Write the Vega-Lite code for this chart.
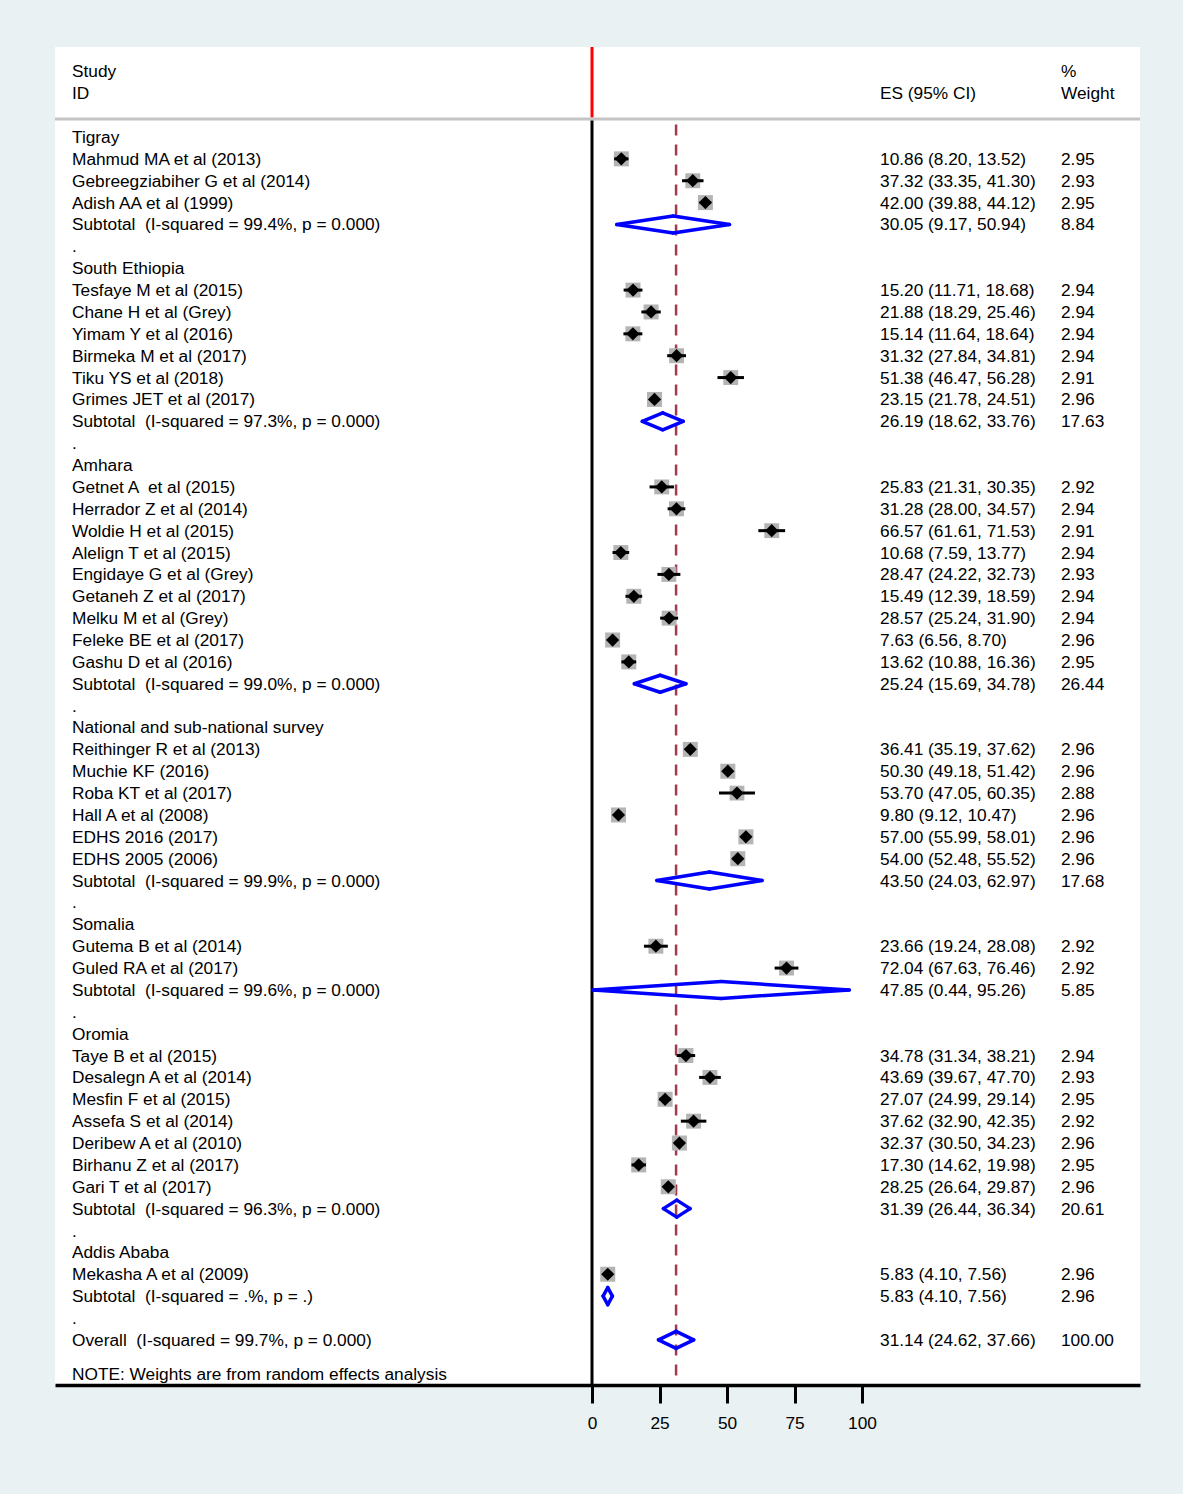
{
  "$schema": "https://vega.github.io/schema/vega-lite/v6.json",
  "autosize": {"type": "none"},
  "padding": {"left": 55, "top": 47, "right": 43, "bottom": 109},
  "width": 1085,
  "height": 1338,
  "background": "#e9f1f2",
  "config": {
    "view": {"fill": "white", "stroke": null},
    "font": "Liberation Sans",
    "text": {"font": "Liberation Sans", "fontSize": 17.3, "color": "black", "baseline": "middle", "align": "left", "dy": 1}
  },
  "data": {"values": [
    {"row": 0, "label": "Tigray", "type": "group"},
    {"row": 1, "label": "Mahmud MA et al (2013)", "type": "study", "es": 10.86, "lo": 8.20, "hi": 13.52, "ci": "10.86 (8.20, 13.52)", "weight": 2.95},
    {"row": 2, "label": "Gebreegziabiher G et al (2014)", "type": "study", "es": 37.32, "lo": 33.35, "hi": 41.30, "ci": "37.32 (33.35, 41.30)", "weight": 2.93},
    {"row": 3, "label": "Adish AA et al (1999)", "type": "study", "es": 42.00, "lo": 39.88, "hi": 44.12, "ci": "42.00 (39.88, 44.12)", "weight": 2.95},
    {"row": 4, "label": "Subtotal \u00a0(I-squared = 99.4%, p = 0.000)", "type": "subtotal", "es": 30.05, "lo": 9.17, "hi": 50.94, "ci": "30.05 (9.17, 50.94)", "weight": 8.84},
    {"row": 5, "label": ".", "type": "blank"},
    {"row": 6, "label": "South Ethiopia", "type": "group"},
    {"row": 7, "label": "Tesfaye M et al (2015)", "type": "study", "es": 15.20, "lo": 11.71, "hi": 18.68, "ci": "15.20 (11.71, 18.68)", "weight": 2.94},
    {"row": 8, "label": "Chane H et al (Grey)", "type": "study", "es": 21.88, "lo": 18.29, "hi": 25.46, "ci": "21.88 (18.29, 25.46)", "weight": 2.94},
    {"row": 9, "label": "Yimam Y et al (2016)", "type": "study", "es": 15.14, "lo": 11.64, "hi": 18.64, "ci": "15.14 (11.64, 18.64)", "weight": 2.94},
    {"row": 10, "label": "Birmeka M et al (2017)", "type": "study", "es": 31.32, "lo": 27.84, "hi": 34.81, "ci": "31.32 (27.84, 34.81)", "weight": 2.94},
    {"row": 11, "label": "Tiku YS et al (2018)", "type": "study", "es": 51.38, "lo": 46.47, "hi": 56.28, "ci": "51.38 (46.47, 56.28)", "weight": 2.91},
    {"row": 12, "label": "Grimes JET et al (2017)", "type": "study", "es": 23.15, "lo": 21.78, "hi": 24.51, "ci": "23.15 (21.78, 24.51)", "weight": 2.96},
    {"row": 13, "label": "Subtotal \u00a0(I-squared = 97.3%, p = 0.000)", "type": "subtotal", "es": 26.19, "lo": 18.62, "hi": 33.76, "ci": "26.19 (18.62, 33.76)", "weight": 17.63},
    {"row": 14, "label": ".", "type": "blank"},
    {"row": 15, "label": "Amhara", "type": "group"},
    {"row": 16, "label": "Getnet A \u00a0et al (2015)", "type": "study", "es": 25.83, "lo": 21.31, "hi": 30.35, "ci": "25.83 (21.31, 30.35)", "weight": 2.92},
    {"row": 17, "label": "Herrador Z et al (2014)", "type": "study", "es": 31.28, "lo": 28.00, "hi": 34.57, "ci": "31.28 (28.00, 34.57)", "weight": 2.94},
    {"row": 18, "label": "Woldie H et al (2015)", "type": "study", "es": 66.57, "lo": 61.61, "hi": 71.53, "ci": "66.57 (61.61, 71.53)", "weight": 2.91},
    {"row": 19, "label": "Alelign T et al (2015)", "type": "study", "es": 10.68, "lo": 7.59, "hi": 13.77, "ci": "10.68 (7.59, 13.77)", "weight": 2.94},
    {"row": 20, "label": "Engidaye G et al (Grey)", "type": "study", "es": 28.47, "lo": 24.22, "hi": 32.73, "ci": "28.47 (24.22, 32.73)", "weight": 2.93},
    {"row": 21, "label": "Getaneh Z et al (2017)", "type": "study", "es": 15.49, "lo": 12.39, "hi": 18.59, "ci": "15.49 (12.39, 18.59)", "weight": 2.94},
    {"row": 22, "label": "Melku M et al (Grey)", "type": "study", "es": 28.57, "lo": 25.24, "hi": 31.90, "ci": "28.57 (25.24, 31.90)", "weight": 2.94},
    {"row": 23, "label": "Feleke BE et al (2017)", "type": "study", "es": 7.63, "lo": 6.56, "hi": 8.70, "ci": "7.63 (6.56, 8.70)", "weight": 2.96},
    {"row": 24, "label": "Gashu D et al (2016)", "type": "study", "es": 13.62, "lo": 10.88, "hi": 16.36, "ci": "13.62 (10.88, 16.36)", "weight": 2.95},
    {"row": 25, "label": "Subtotal \u00a0(I-squared = 99.0%, p = 0.000)", "type": "subtotal", "es": 25.24, "lo": 15.69, "hi": 34.78, "ci": "25.24 (15.69, 34.78)", "weight": 26.44},
    {"row": 26, "label": ".", "type": "blank"},
    {"row": 27, "label": "National and sub-national survey", "type": "group"},
    {"row": 28, "label": "Reithinger R et al (2013)", "type": "study", "es": 36.41, "lo": 35.19, "hi": 37.62, "ci": "36.41 (35.19, 37.62)", "weight": 2.96},
    {"row": 29, "label": "Muchie KF (2016)", "type": "study", "es": 50.30, "lo": 49.18, "hi": 51.42, "ci": "50.30 (49.18, 51.42)", "weight": 2.96},
    {"row": 30, "label": "Roba KT et al (2017)", "type": "study", "es": 53.70, "lo": 47.05, "hi": 60.35, "ci": "53.70 (47.05, 60.35)", "weight": 2.88},
    {"row": 31, "label": "Hall A et al (2008)", "type": "study", "es": 9.80, "lo": 9.12, "hi": 10.47, "ci": "9.80 (9.12, 10.47)", "weight": 2.96},
    {"row": 32, "label": "EDHS 2016 (2017)", "type": "study", "es": 57.00, "lo": 55.99, "hi": 58.01, "ci": "57.00 (55.99, 58.01)", "weight": 2.96},
    {"row": 33, "label": "EDHS 2005 (2006)", "type": "study", "es": 54.00, "lo": 52.48, "hi": 55.52, "ci": "54.00 (52.48, 55.52)", "weight": 2.96},
    {"row": 34, "label": "Subtotal \u00a0(I-squared = 99.9%, p = 0.000)", "type": "subtotal", "es": 43.50, "lo": 24.03, "hi": 62.97, "ci": "43.50 (24.03, 62.97)", "weight": 17.68},
    {"row": 35, "label": ".", "type": "blank"},
    {"row": 36, "label": "Somalia", "type": "group"},
    {"row": 37, "label": "Gutema B et al (2014)", "type": "study", "es": 23.66, "lo": 19.24, "hi": 28.08, "ci": "23.66 (19.24, 28.08)", "weight": 2.92},
    {"row": 38, "label": "Guled RA et al (2017)", "type": "study", "es": 72.04, "lo": 67.63, "hi": 76.46, "ci": "72.04 (67.63, 76.46)", "weight": 2.92},
    {"row": 39, "label": "Subtotal \u00a0(I-squared = 99.6%, p = 0.000)", "type": "subtotal", "es": 47.85, "lo": 0.44, "hi": 95.26, "ci": "47.85 (0.44, 95.26)", "weight": 5.85},
    {"row": 40, "label": ".", "type": "blank"},
    {"row": 41, "label": "Oromia", "type": "group"},
    {"row": 42, "label": "Taye B et al (2015)", "type": "study", "es": 34.78, "lo": 31.34, "hi": 38.21, "ci": "34.78 (31.34, 38.21)", "weight": 2.94},
    {"row": 43, "label": "Desalegn A et al (2014)", "type": "study", "es": 43.69, "lo": 39.67, "hi": 47.70, "ci": "43.69 (39.67, 47.70)", "weight": 2.93},
    {"row": 44, "label": "Mesfin F et al (2015)", "type": "study", "es": 27.07, "lo": 24.99, "hi": 29.14, "ci": "27.07 (24.99, 29.14)", "weight": 2.95},
    {"row": 45, "label": "Assefa S et al (2014)", "type": "study", "es": 37.62, "lo": 32.90, "hi": 42.35, "ci": "37.62 (32.90, 42.35)", "weight": 2.92},
    {"row": 46, "label": "Deribew A et al (2010)", "type": "study", "es": 32.37, "lo": 30.50, "hi": 34.23, "ci": "32.37 (30.50, 34.23)", "weight": 2.96},
    {"row": 47, "label": "Birhanu Z et al (2017)", "type": "study", "es": 17.30, "lo": 14.62, "hi": 19.98, "ci": "17.30 (14.62, 19.98)", "weight": 2.95},
    {"row": 48, "label": "Gari T et al (2017)", "type": "study", "es": 28.25, "lo": 26.64, "hi": 29.87, "ci": "28.25 (26.64, 29.87)", "weight": 2.96},
    {"row": 49, "label": "Subtotal \u00a0(I-squared = 96.3%, p = 0.000)", "type": "subtotal", "es": 31.39, "lo": 26.44, "hi": 36.34, "ci": "31.39 (26.44, 36.34)", "weight": 20.61},
    {"row": 50, "label": ".", "type": "blank"},
    {"row": 51, "label": "Addis Ababa", "type": "group"},
    {"row": 52, "label": "Mekasha A et al (2009)", "type": "study", "es": 5.83, "lo": 4.10, "hi": 7.56, "ci": "5.83 (4.10, 7.56)", "weight": 2.96},
    {"row": 53, "label": "Subtotal \u00a0(I-squared = .%, p = .)", "type": "subtotal", "es": 5.83, "lo": 4.10, "hi": 7.56, "ci": "5.83 (4.10, 7.56)", "weight": 2.96},
    {"row": 54, "label": ".", "type": "blank"},
    {"row": 55, "label": "Overall \u00a0(I-squared = 99.7%, p = 0.000)", "type": "overall", "es": 31.14, "lo": 24.62, "hi": 37.66, "ci": "31.14 (24.62, 37.66)", "weight": 100.00}
  ]},
  "encoding": {
    "x": {"type": "quantitative", "scale": {"domain": [-198.89, 202.96], "nice": false, "zero": false},
      "axis": {"values": [0, 25, 50, 75, 100], "orient": "bottom", "title": null, "grid": false, "domainColor": "black", "domainWidth": 3.5, "tickColor": "black", "tickWidth": 3, "tickSize": 18, "labelFont": "Liberation Sans", "labelFontSize": 17.3, "labelColor": "black", "labelPadding": 11, "labelFlush": false, "labelOverlap": false, "zindex": 1}},
    "y": {"type": "quantitative", "scale": {"domain": [-4.115, 57.064], "nice": false, "zero": false, "reverse": true}, "axis": null}
  },
  "layer": [
    {
      "data": {"values": [{}]},
      "mark": {"type": "rule", "color": "#c4c4c4", "strokeWidth": 3},
      "encoding": {"x": {"datum": -198.89}, "x2": {"datum": 202.96}, "y": {"datum": -0.823}}
    },
    {
      "data": {"values": [{}]},
      "mark": {"type": "rule", "color": "#ff0000", "strokeWidth": 3},
      "encoding": {"x": {"datum": 0}, "y": {"datum": -4.115}, "y2": {"datum": -0.9}}
    },
    {
      "data": {"values": [{}]},
      "mark": {"type": "rule", "color": "black", "strokeWidth": 3},
      "encoding": {"x": {"datum": 0}, "y": {"datum": -0.75}, "y2": {"datum": 57.064}}
    },
    {
      "transform": [{"filter": "datum.type == 'overall'"}],
      "mark": {"type": "rule", "color": "#a23b4c", "strokeWidth": 2.5, "strokeDash": [11, 9]},
      "encoding": {"x": {"field": "es"}, "y": {"datum": -0.57}, "y2": {"datum": 57.064}}
    },
    {
      "transform": [{"filter": "datum.type == 'study'"}],
      "mark": {"type": "square", "color": "#b4b4b4", "opacity": 1, "filled": true},
      "encoding": {
        "x": {"field": "es"},
        "y": {"field": "row"},
        "size": {"field": "weight", "type": "quantitative", "scale": {"domain": [0, 2.96], "range": [0, 225]}, "legend": null}
      }
    },
    {
      "transform": [{"filter": "datum.type == 'study'"}],
      "mark": {"type": "rule", "color": "black", "strokeWidth": 3},
      "encoding": {"x": {"field": "lo"}, "x2": {"field": "hi"}, "y": {"field": "row"}}
    },
    {
      "transform": [{"filter": "datum.type == 'study'"}],
      "mark": {"type": "point", "shape": "diamond", "filled": true, "color": "black", "opacity": 1, "size": 175},
      "encoding": {"x": {"field": "es"}, "y": {"field": "row"}}
    },
    {
      "transform": [{"filter": "datum.type == 'subtotal' || datum.type == 'overall'"}],
      "mark": {"type": "rule", "color": "#0000ff", "strokeWidth": 3.5, "strokeCap": "round", "y2Offset": -8.5},
      "encoding": {"x": {"field": "lo"}, "x2": {"field": "es"}, "y": {"field": "row"}, "y2": {"field": "row"}}
    },
    {
      "transform": [{"filter": "datum.type == 'subtotal' || datum.type == 'overall'"}],
      "mark": {"type": "rule", "color": "#0000ff", "strokeWidth": 3.5, "strokeCap": "round", "y2Offset": 8.5},
      "encoding": {"x": {"field": "lo"}, "x2": {"field": "es"}, "y": {"field": "row"}, "y2": {"field": "row"}}
    },
    {
      "transform": [{"filter": "datum.type == 'subtotal' || datum.type == 'overall'"}],
      "mark": {"type": "rule", "color": "#0000ff", "strokeWidth": 3.5, "strokeCap": "round", "yOffset": -8.5},
      "encoding": {"x": {"field": "es"}, "x2": {"field": "hi"}, "y": {"field": "row"}, "y2": {"field": "row"}}
    },
    {
      "transform": [{"filter": "datum.type == 'subtotal' || datum.type == 'overall'"}],
      "mark": {"type": "rule", "color": "#0000ff", "strokeWidth": 3.5, "strokeCap": "round", "yOffset": 8.5},
      "encoding": {"x": {"field": "es"}, "x2": {"field": "hi"}, "y": {"field": "row"}, "y2": {"field": "row"}}
    },
    {
      "mark": {"type": "text"},
      "encoding": {"x": {"datum": -192.6}, "y": {"field": "row"}, "text": {"field": "label"}}
    },
    {
      "transform": [{"filter": "isValid(datum.ci)"}],
      "mark": {"type": "text"},
      "encoding": {"x": {"datum": 106.67}, "y": {"field": "row"}, "text": {"field": "ci"}}
    },
    {
      "transform": [{"filter": "isValid(datum.weight)"}],
      "mark": {"type": "text"},
      "encoding": {"x": {"datum": 173.7}, "y": {"field": "row"}, "text": {"field": "weight", "type": "quantitative", "format": ".2f"}}
    },
    {
      "data": {"values": [{}]},
      "mark": {"type": "text", "text": "Study"},
      "encoding": {"x": {"datum": -192.6}, "y": {"datum": -3.018}}
    },
    {
      "data": {"values": [{}]},
      "mark": {"type": "text", "text": "ID"},
      "encoding": {"x": {"datum": -192.6}, "y": {"datum": -2.01}}
    },
    {
      "data": {"values": [{}]},
      "mark": {"type": "text", "text": "ES (95% CI)"},
      "encoding": {"x": {"datum": 106.67}, "y": {"datum": -2.01}}
    },
    {
      "data": {"values": [{}]},
      "mark": {"type": "text", "text": "%"},
      "encoding": {"x": {"datum": 173.7}, "y": {"datum": -3.018}}
    },
    {
      "data": {"values": [{}]},
      "mark": {"type": "text", "text": "Weight"},
      "encoding": {"x": {"datum": 173.7}, "y": {"datum": -2.01}}
    },
    {
      "data": {"values": [{}]},
      "mark": {"type": "text", "text": "NOTE: Weights are from random effects analysis"},
      "encoding": {"x": {"datum": -192.6}, "y": {"datum": 56.56}}
    }
  ]
}
